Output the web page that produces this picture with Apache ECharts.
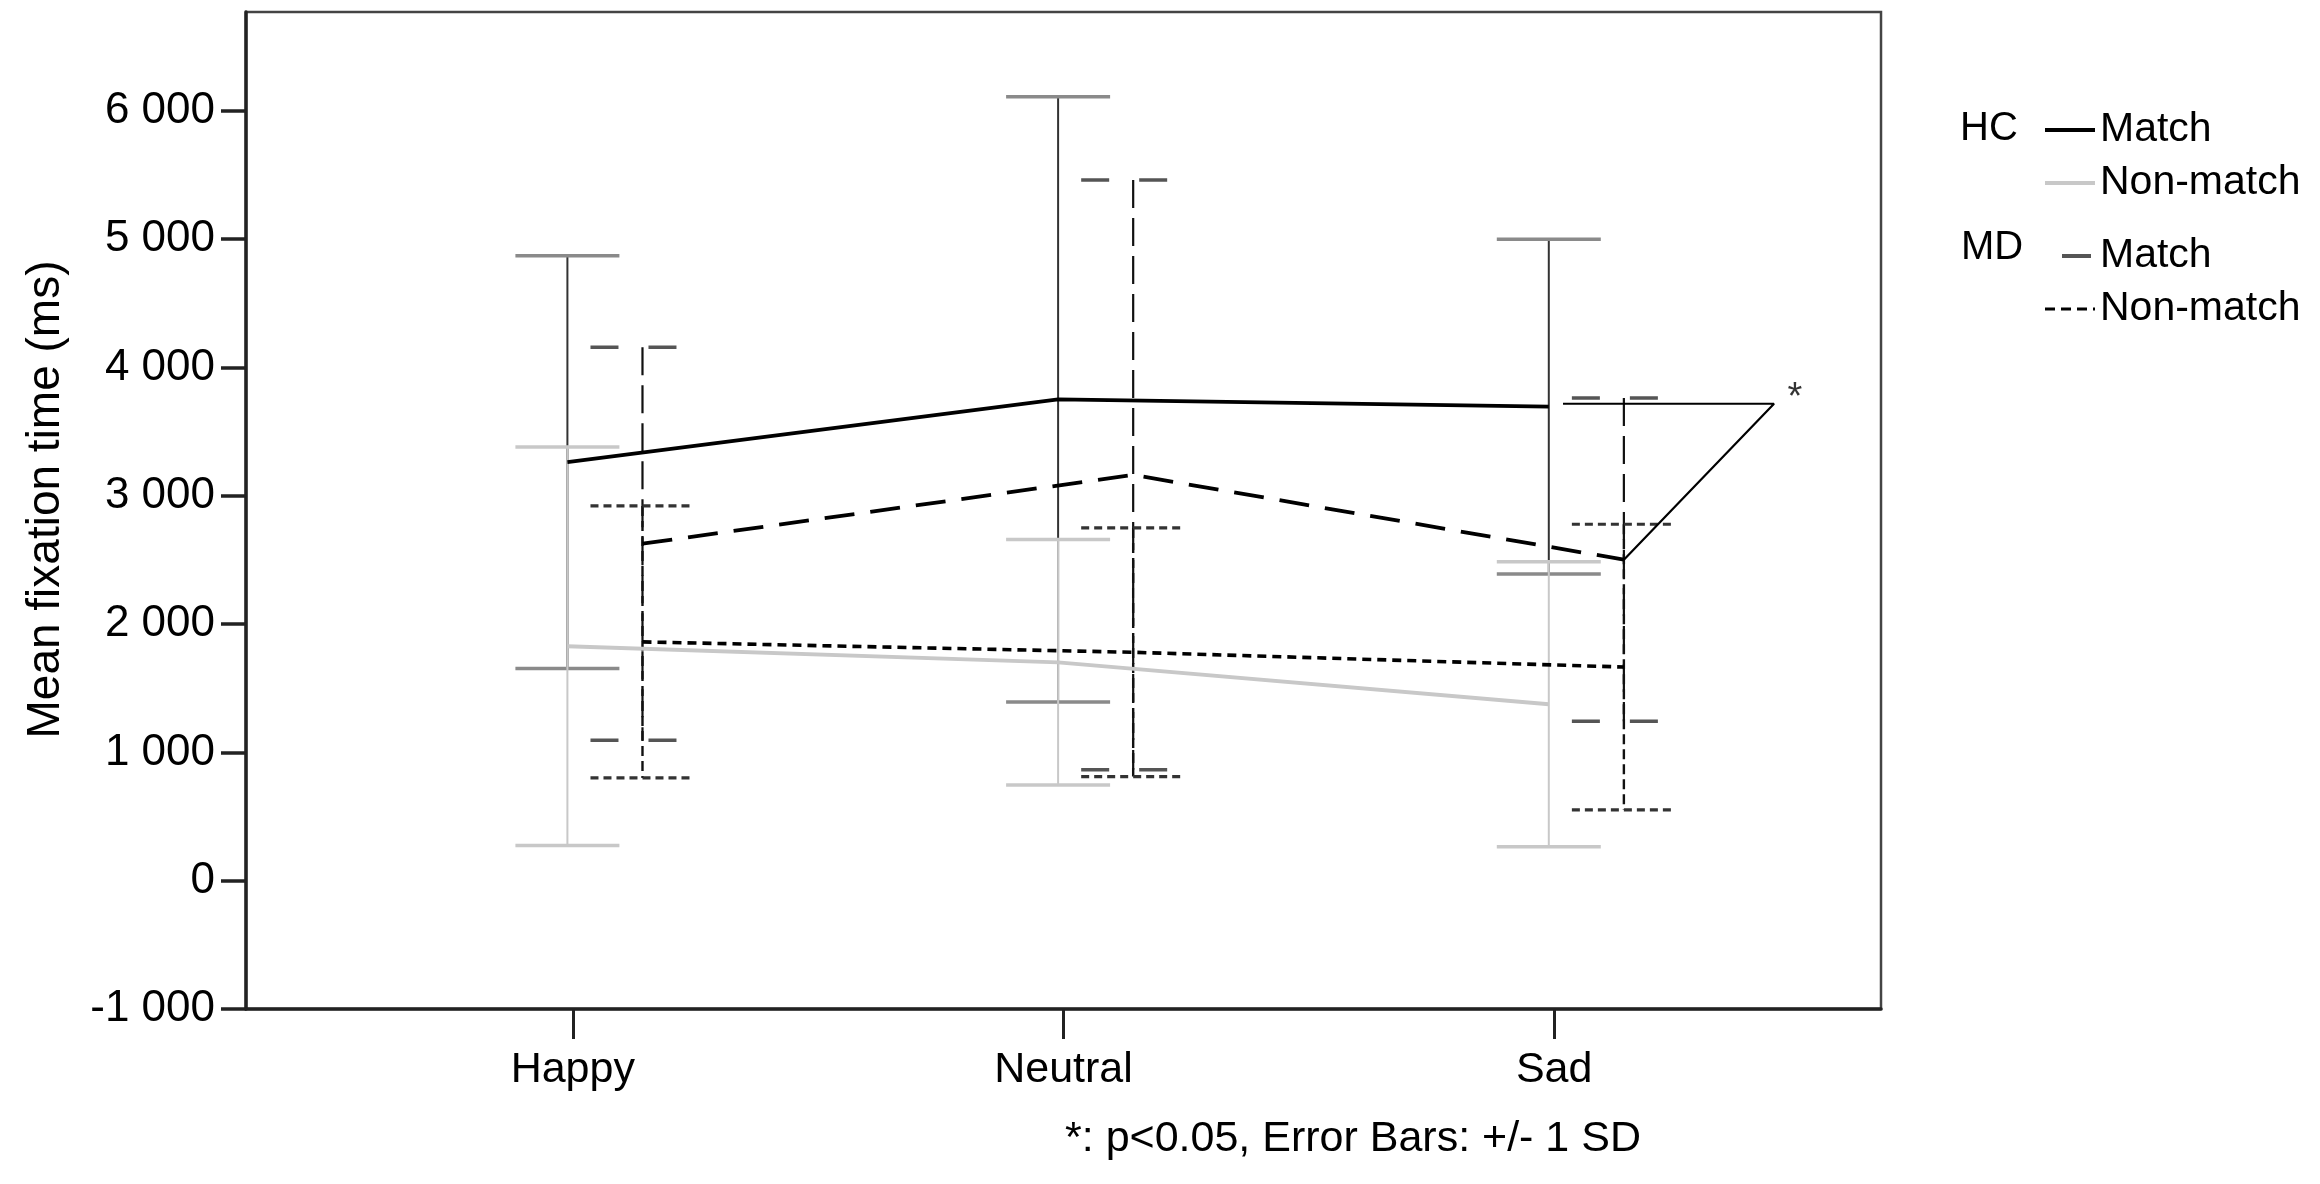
<!DOCTYPE html>
<html>
<head>
<meta charset="utf-8">
<script src="https://cdn.jsdelivr.net/npm/echarts@6/dist/echarts.min.js"></script>
<style>
html,body{margin:0;padding:0;background:#fff;}
#chart{width:2320px;height:1184px;}
</style>
</head>
<body>
<div id="chart"></div>
<script>
// ---- data ----
const categories = ['Happy', 'Neutral', 'Sad'];
const hcMatchMean = [3262, 3751, 3694];
const hcMatchSD   = [1608, 2359, 1304];
const hcNonMean   = [1827, 1702, 1375];
const hcNonSD     = [1553, 957, 1111];
const mdMatchMean = [2626, 3162, 2502];
const mdMatchSD   = [1532, 2298, 1259];
const mdNonMean   = [1861, 1780, 1665];
const mdNonSD     = [1060, 969, 1113];
const yTickValues = [-1000, 0, 1000, 2000, 3000, 4000, 5000, 6000];
const sigBracketX = [2.018, 2.448, 2.142];
const sigBracketY = [3717, 3717, 2502];
const footnote = '*: p<0.05, Error Bars: +/- 1 SD';

// ---- layout / styling ----
const FONT = '"Liberation Sans", Arial, sans-serif';
const HC_OFF = -0.011, MD_OFF = 0.142;

function pts(mean, off) { return mean.map((m, i) => [i + off, m]); }
function bars(mean, sd, off) { return mean.map((m, i) => [i + off, m - sd[i], m + sd[i]]); }
function fmtY(v) {
  const s = Math.abs(v).toString().replace(/\B(?=(\d{3})+(?!\d))/g, ' ');
  return (v < 0 ? '-' : '') + s;
}
function errRender(st) {
  return function (params, api) {
    const x = api.value(0), lo = api.value(1), hi = api.value(2);
    const t = api.coord([x, hi]), b = api.coord([x, lo]);
    const hw = 52;
    const cap = (y) => ({
      type: 'line',
      shape: { x1: t[0] - hw, y1: y, x2: t[0] + hw, y2: y },
      style: { stroke: st.cColor, lineWidth: st.cWidth, lineDash: st.cDash || null }
    });
    return {
      type: 'group',
      children: [
        { type: 'line', shape: { x1: t[0], y1: t[1], x2: b[0], y2: b[1] },
          style: { stroke: st.vColor, lineWidth: st.vWidth, lineDash: st.vDash || null } },
        cap(t[1]), cap(b[1])
      ]
    };
  };
}
function errSeries(name, data, st) {
  return { name: name, type: 'custom', renderItem: errRender(st), data: data,
           encode: { x: 0, y: [1, 2] }, z: 1, silent: true };
}

const chart = echarts.init(document.getElementById('chart'), null, { renderer: 'canvas' });
const legendText = { fontSize: 41, color: '#000', fontFamily: FONT, lineHeight: 42 };
const strip = n => n.replace(/^(HC|MD) /, '');
const legendCommon = {
  orient: 'vertical', left: 2043, itemWidth: 50, itemHeight: 2, itemGap: 11, padding: 0,
  selectedMode: false, formatter: strip, textStyle: legendText, itemStyle: { opacity: 0 }
};

chart.setOption({
  animation: false,
  backgroundColor: '#fff',
  textStyle: { fontFamily: FONT, color: '#000' },
  title: [
    { text: 'HC', left: 1960, top: 109, padding: 0,
      textStyle: { fontSize: 40, fontWeight: 'normal', color: '#000', fontFamily: FONT } },
    { text: 'MD', left: 1961, top: 228, padding: 0,
      textStyle: { fontSize: 40, fontWeight: 'normal', color: '#000', fontFamily: FONT } },
    { text: footnote, left: 1065, top: 1118, padding: 0,
      textStyle: { fontSize: 43, fontWeight: 'normal', color: '#000', fontFamily: FONT } }
  ],
  legend: [
    Object.assign({}, legendCommon, {
      data: [{ name: 'HC Match', lineStyle: { width: 4 } }, { name: 'HC Non-match', lineStyle: { width: 4 } }],
      top: 109 }),
    Object.assign({}, legendCommon, {
      data: [{ name: 'MD Match', lineStyle: { type: [0.001, 17, 29, 200], color: '#555', width: 4 } },
             { name: 'MD Non-match', lineStyle: { type: [10, 6], width: 3 } }],
      top: 235 })
  ],
  grid: { left: 246, right: 439, top: 12, bottom: 175, show: true,
          borderColor: '#444', borderWidth: 2.5, backgroundColor: '#fff' },
  xAxis: {
    type: 'value', min: -0.666, max: 2.666,
    splitLine: { show: false },
    axisLine: { show: true, onZero: false, lineStyle: { color: '#222', width: 3.5 } },
    axisTick: { show: true, customValues: [0, 1, 2], length: 30, lineStyle: { color: '#222', width: 3 } },
    axisLabel: { customValues: [0, 1, 2], formatter: v => categories[Math.round(v)] || '',
                 fontSize: 43, color: '#000', margin: 40, fontFamily: FONT }
  },
  yAxis: {
    type: 'value', min: -1000, max: 6770,
    name: 'Mean fixation time (ms)', nameLocation: 'middle', nameGap: 177,
    nameTextStyle: { fontSize: 46, color: '#000', fontFamily: FONT, padding: [0, 0, 0, 22] },
    splitLine: { show: false },
    axisLine: { show: true, onZero: false, lineStyle: { color: '#222', width: 3.5 } },
    axisTick: { show: true, customValues: yTickValues, length: 25, lineStyle: { color: '#222', width: 3.5 } },
    axisLabel: { customValues: yTickValues, formatter: fmtY, fontSize: 44, color: '#000',
                 margin: 31, fontFamily: FONT }
  },
  series: [
    errSeries('HC Match SD', bars(hcMatchMean, hcMatchSD, HC_OFF),
      { vColor: '#333', vWidth: 2, cColor: '#8a8a8a', cWidth: 3.5 }),
    errSeries('HC Non-match SD', bars(hcNonMean, hcNonSD, HC_OFF),
      { vColor: '#c8c8c8', vWidth: 2, cColor: '#c8c8c8', cWidth: 3.5 }),
    errSeries('MD Match SD', bars(mdMatchMean, mdMatchSD, MD_OFF),
      { vColor: '#111', vWidth: 2.2, vDash: [28, 10], cColor: '#555', cWidth: 3.5, cDash: [28, 30] }),
    errSeries('MD Non-match SD', bars(mdNonMean, mdNonSD, MD_OFF),
      { vColor: '#111', vWidth: 2.4, vDash: [10, 5], cColor: '#333', cWidth: 3.2, cDash: [8, 5] }),
    { name: 'HC Match', type: 'line', data: pts(hcMatchMean, HC_OFF), symbol: 'none', showSymbol: false,
      lineStyle: { color: '#000', width: 3.8, type: 'solid' }, itemStyle: { color: '#000' }, z: 3 },
    { name: 'HC Non-match', type: 'line', data: pts(hcNonMean, HC_OFF), symbol: 'none', showSymbol: false,
      lineStyle: { color: '#c8c8c8', width: 3.8, type: 'solid' }, itemStyle: { color: '#c8c8c8' }, z: 3 },
    { name: 'MD Match', type: 'line', data: pts(mdMatchMean, MD_OFF), symbol: 'none', showSymbol: false,
      lineStyle: { color: '#000', width: 3.8, type: [30, 16] }, itemStyle: { color: '#000' }, z: 3 },
    { name: 'MD Non-match', type: 'line', data: pts(mdNonMean, MD_OFF), symbol: 'none', showSymbol: false,
      lineStyle: { color: '#000', width: 3.6, type: [9, 6] }, itemStyle: { color: '#000' }, z: 3 },
    { name: 'sig', type: 'line', symbol: 'none', showSymbol: false, silent: true, z: 3,
      lineStyle: { color: '#000', width: 2.2 },
      data: sigBracketX.map((x, i) => [x, sigBracketY[i]]) },
    { name: 'sigStar', type: 'scatter', silent: true, z: 4, symbol: 'circle', symbolSize: 1,
      itemStyle: { color: 'rgba(0,0,0,0)' },
      label: { show: true, formatter: '*', position: 'right', distance: 13, offset: [0, -5],
               fontSize: 38, color: '#000', fontFamily: FONT },
      data: [[sigBracketX[1], sigBracketY[1]]] }
  ]
});
</script>
</body>
</html>
